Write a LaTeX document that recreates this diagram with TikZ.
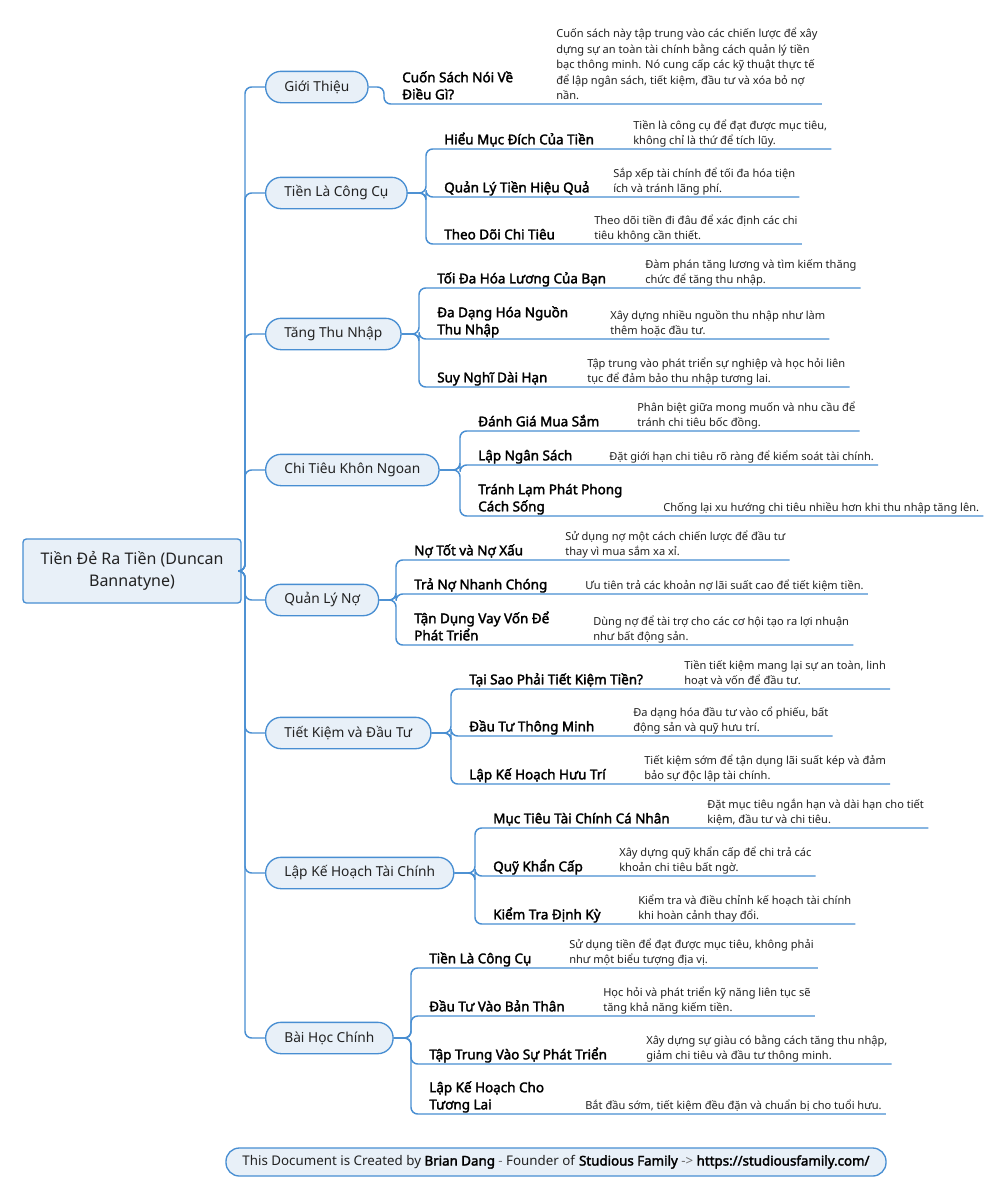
\documentclass[tikz,border=0pt]{standalone}
\usepackage{fontspec}
\setmainfont{Noto Sans}[AutoFakeBold=2.2]
\usepackage{xcolor}
\usepackage{tikz}
\usetikzlibrary{positioning}
\definecolor{mapblue}{RGB}{72, 142, 210}
\definecolor{mapfill}{RGB}{232, 240, 248}
\definecolor{maptext}{RGB}{34, 34, 34}
\definecolor{mapgray}{RGB}{110, 110, 110}

\begin{document}
\begin{tikzpicture}[
    x=0.75pt, y=-0.75pt,
    rootbox/.style={rectangle, rounded corners=2.5pt, draw=mapblue, fill=mapfill, line width=1pt, minimum width=163.5pt, minimum height=48pt, align=center, font=\fontsize{12}{16.5}\selectfont, text=maptext},
    topic/.style={rectangle, rounded corners=11.5pt, draw=mapblue, fill=mapfill, line width=1pt, minimum height=23.5pt, inner xsep=14pt, anchor=west, font=\fontsize{10.3}{13}\selectfont, text=maptext},
    subtopic/.style={inner xsep=0pt, inner ysep=-0.5pt, align=left, anchor=south west, font=\fontsize{10.1}{12.8}\selectfont\bfseries, text=black, execute at end node=\strut},
    note/.style={inner xsep=3pt, inner ysep=-0.5pt, align=left, anchor=south west, font=\fontsize{8.3}{11.6}\selectfont, text=maptext, execute at end node=\strut},
    link/.style={draw=mapblue, line width=1.1pt, rounded corners=5pt},
    footer/.style={rectangle, rounded corners=10pt, draw=mapblue, fill=mapfill, line width=1pt, minimum width=495pt, minimum height=21pt, font=\fontsize{10}{11}\selectfont, text=maptext}
]
\fill[white] (0,0) rectangle (1006,1200);
\useasboundingbox (0,0) rectangle (1006,1200);

% Root and main topics
\node[rootbox] (root) at (132,571) {Tiền Đẻ Ra Tiền (Duncan\\Bannatyne)};
\node[topic] (t1) at (265,87) {Giới Thiệu};
\node[topic] (t2) at (265,193) {Tiền Là Công Cụ};
\node[topic] (t3) at (265,334) {Tăng Thu Nhập};
\node[topic] (t4) at (265,470) {Chi Tiêu Khôn Ngoan};
\node[topic] (t5) at (265,600) {Quản Lý Nợ};
\node[topic] (t6) at (265,733) {Tiết Kiệm và Đầu Tư};
\node[topic] (t7) at (265,873) {Lập Kế Hoạch Tài Chính};
\node[topic] (t8) at (265,1038) {Bài Học Chính};

\foreach \t in {t1,t2,t3,t4,t5,t6,t7,t8}
    \draw[link] (root.east) -| ([xshift=-15pt]\t.west) -- (\t.west);

% Giới Thiệu
\node[subtopic] (s1) at (402,104) {Cuốn Sách Nói Về\\Điều Gì?};
\node[note] (d1) at (552,104) {Cuốn sách này tập trung vào các chiến lược để xây\\dựng sự an toàn tài chính bằng cách quản lý tiền\\bạc thông minh. Nó cung cấp các kỹ thuật thực tế\\để lập ngân sách, tiết kiệm, đầu tư và xóa bỏ nợ\\nần.};

% Tiền Là Công Cụ
\node[subtopic] (s2a) at (444,149) {Hiểu Mục Đích Của Tiền};
\node[note] (d2a) at (629,149) {Tiền là công cụ để đạt được mục tiêu,\\không chỉ là thứ để tích lũy.};
\node[subtopic] (s2b) at (444,197) {Quản Lý Tiền Hiệu Quả};
\node[note] (d2b) at (609,197) {Sắp xếp tài chính để tối đa hóa tiện\\ích và tránh lãng phí.};
\node[subtopic] (s2c) at (444,244) {Theo Dõi Chi Tiêu};
\node[note] (d2c) at (590,244) {Theo dõi tiền đi đâu để xác định các chi\\tiêu không cần thiết.};

% Tăng Thu Nhập
\node[subtopic] (s3a) at (437,288) {Tối Đa Hóa Lương Của Bạn};
\node[note] (d3a) at (641,288) {Đàm phán tăng lương và tìm kiếm thăng\\chức để tăng thu nhập.};
\node[subtopic] (s3b) at (437,339) {Đa Dạng Hóa Nguồn\\Thu Nhập};
\node[note] (d3b) at (606,339) {Xây dựng nhiều nguồn thu nhập như làm\\thêm hoặc đầu tư.};
\node[subtopic] (s3c) at (437,387) {Suy Nghĩ Dài Hạn};
\node[note] (d3c) at (583,387) {Tập trung vào phát triển sự nghiệp và học hỏi liên\\tục để đảm bảo thu nhập tương lai.};

% Chi Tiêu Khôn Ngoan
\node[subtopic] (s4a) at (478,431) {Đánh Giá Mua Sắm};
\node[note] (d4a) at (633,431) {Phân biệt giữa mong muốn và nhu cầu để\\tránh chi tiêu bốc đồng.};
\node[subtopic] (s4b) at (478,465) {Lập Ngân Sách};
\node[note] (d4b) at (605,465) {Đặt giới hạn chi tiêu rõ ràng để kiểm soát tài chính.};
\node[subtopic] (s4c) at (478,516) {Tránh Lạm Phát Phong\\Cách Sống};
\node[note] (d4c) at (659,516) {Chống lại xu hướng chi tiêu nhiều hơn khi thu nhập tăng lên.};

% Quản Lý Nợ
\node[subtopic] (s5a) at (414,560) {Nợ Tốt và Nợ Xấu};
\node[note] (d5a) at (561,560) {Sử dụng nợ một cách chiến lược để đầu tư\\thay vì mua sắm xa xỉ.};
\node[subtopic] (s5b) at (414,594) {Trả Nợ Nhanh Chóng};
\node[note] (d5b) at (581,594) {Ưu tiên trả các khoản nợ lãi suất cao để tiết kiệm tiền.};
\node[subtopic] (s5c) at (414,645) {Tận Dụng Vay Vốn Để\\Phát Triển};
\node[note] (d5c) at (589,645) {Dùng nợ để tài trợ cho các cơ hội tạo ra lợi nhuận\\như bất động sản.};

% Tiết Kiệm và Đầu Tư
\node[subtopic] (s6a) at (469,689) {Tại Sao Phải Tiết Kiệm Tiền?};
\node[note] (d6a) at (680,689) {Tiền tiết kiệm mang lại sự an toàn, linh\\hoạt và vốn để đầu tư.};
\node[subtopic] (s6b) at (469,736) {Đầu Tư Thông Minh};
\node[note] (d6b) at (629,736) {Đa dạng hóa đầu tư vào cổ phiếu, bất\\động sản và quỹ hưu trí.};
\node[subtopic] (s6c) at (469,784) {Lập Kế Hoạch Hưu Trí};
\node[note] (d6c) at (640,784) {Tiết kiệm sớm để tận dụng lãi suất kép và đảm\\bảo sự độc lập tài chính.};

% Lập Kế Hoạch Tài Chính
\node[subtopic] (s7a) at (493,828) {Mục Tiêu Tài Chính Cá Nhân};
\node[note] (d7a) at (703,828) {Đặt mục tiêu ngắn hạn và dài hạn cho tiết\\kiệm, đầu tư và chi tiêu.};
\node[subtopic] (s7b) at (493,876) {Quỹ Khẩn Cấp};
\node[note] (d7b) at (615,876) {Xây dựng quỹ khẩn cấp để chi trả các\\khoản chi tiêu bất ngờ.};
\node[subtopic] (s7c) at (493,924) {Kiểm Tra Định Kỳ};
\node[note] (d7c) at (634,924) {Kiểm tra và điều chỉnh kế hoạch tài chính\\khi hoàn cảnh thay đổi.};

% Bài Học Chính
\node[subtopic] (s8a) at (429,968) {Tiền Là Công Cụ};
\node[note] (d8a) at (565,968) {Sử dụng tiền để đạt được mục tiêu, không phải\\như một biểu tượng địa vị.};
\node[subtopic] (s8b) at (429,1016) {Đầu Tư Vào Bản Thân};
\node[note] (d8b) at (599,1016) {Học hỏi và phát triển kỹ năng liên tục sẽ\\tăng khả năng kiếm tiền.};
\node[subtopic] (s8c) at (429,1064) {Tập Trung Vào Sự Phát Triển};
\node[note] (d8c) at (642,1064) {Xây dựng sự giàu có bằng cách tăng thu nhập,\\giảm chi tiêu và đầu tư thông minh.};
\node[subtopic] (s8d) at (429,1114) {Lập Kế Hoạch Cho\\Tương Lai};
\node[note] (d8d) at (581,1114) {Bắt đầu sớm, tiết kiệm đều đặn và chuẩn bị cho tuổi hưu.};

% branches: topic -> spine -> underline of subtopic and its note
\foreach \t/\s/\d in {t1/s1/d1,
    t2/s2a/d2a, t2/s2b/d2b, t2/s2c/d2c,
    t3/s3a/d3a, t3/s3b/d3b, t3/s3c/d3c,
    t4/s4a/d4a, t4/s4b/d4b, t4/s4c/d4c,
    t5/s5a/d5a, t5/s5b/d5b, t5/s5c/d5c,
    t6/s6a/d6a, t6/s6b/d6b, t6/s6c/d6c,
    t7/s7a/d7a, t7/s7b/d7b, t7/s7c/d7c,
    t8/s8a/d8a, t8/s8b/d8b, t8/s8c/d8c, t8/s8d/d8d}
    \draw[link] (\t.east) -| ([xshift=-13.5pt]\s.south west) -- (\s.south west) -- (\d.south east);

% Footer
\node[footer] (foot) at (556,1162) {This Document is Created by \textbf{\color{black}Brian Dang} {\color{mapgray}-} Founder of \textbf{\color{black}Studious Family} {\color{mapgray}->} \textbf{\color{black}https://studiousfamily.com/}};

\end{tikzpicture}
\end{document}
